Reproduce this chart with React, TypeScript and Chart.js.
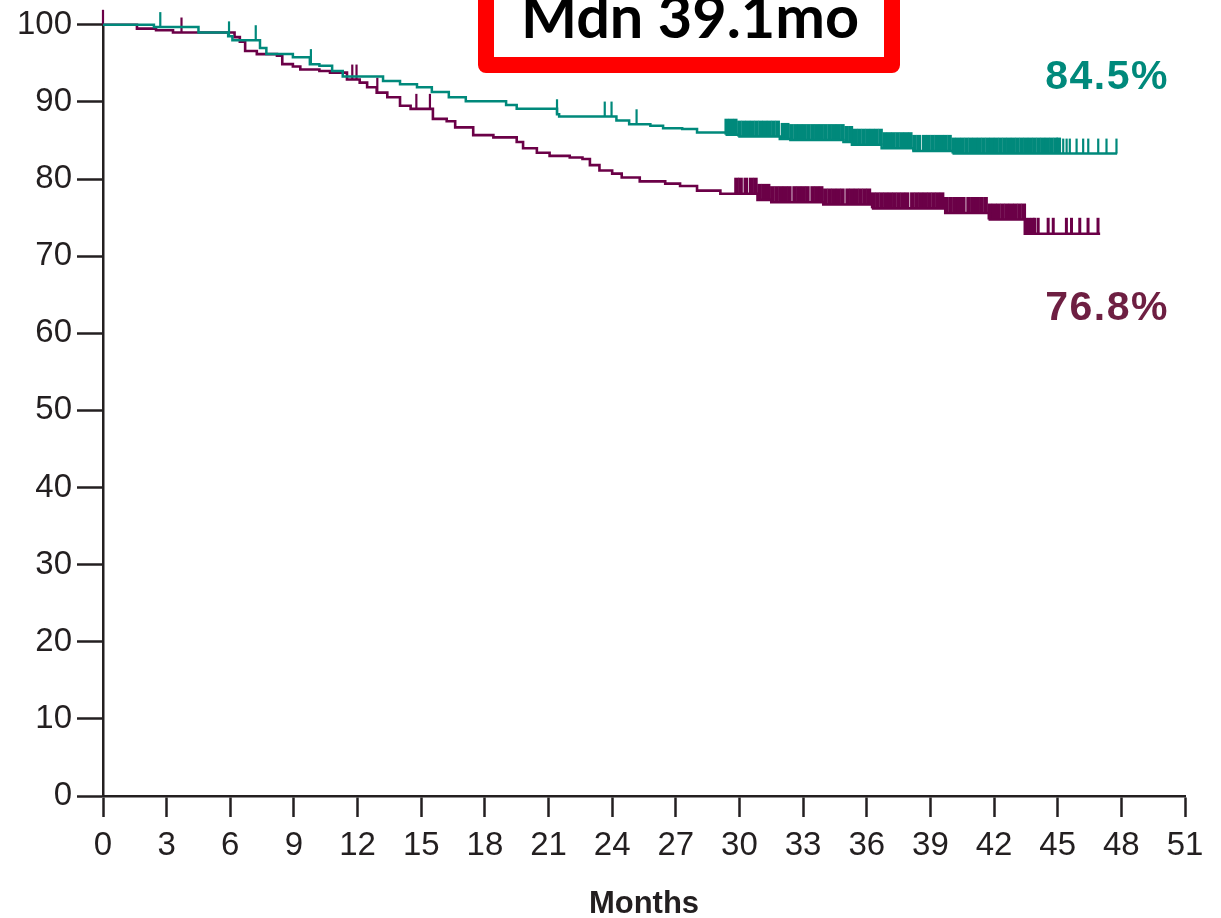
import React, { useEffect, useRef } from "react";
import { Chart, registerables } from "chart.js";

Chart.register(...registerables);

// ---- Data ----
const monthTicks = [0, 3, 6, 9, 12, 15, 18, 21, 24, 27, 30, 33, 36, 39, 42, 45, 48, 51];
const percentTicks = [0, 10, 20, 30, 40, 50, 60, 70, 80, 90, 100];

// Teal arm: step times (months) and survival (%) after each step
const tealTimes = [0, 2.4, 4.5, 5.9, 6.1, 7.4, 7.7, 8.95, 9.75, 10.2, 10.8, 11.3, 13.2, 14.0, 14.8, 15.5, 16.3, 17.1, 19.0, 19.5, 21.4, 21.5, 24.2, 24.8, 25.8, 26.4, 27.3, 28.0, 29.4, 30.0, 31.9, 32.4, 34.9, 35.3, 36.7, 38.2, 40.1, 47.8];
const tealValues = [100, 99.7, 99.0, 98.5, 98.0, 97.0, 96.2, 95.8, 94.9, 94.7, 94.0, 93.3, 92.7, 92.3, 91.9, 91.3, 90.6, 90.1, 89.6, 89.1, 88.4, 88.1, 87.6, 87.1, 86.9, 86.6, 86.5, 86.05, 85.75, 85.5, 85.2, 85.05, 84.8, 84.45, 84.0, 83.65, 83.3, 83.3];
const tealCensored = [2.7, 5.94, 7.2, 9.8, 21.4, 23.65, 23.97, 25.15, 45.26, 45.42, 45.57, 45.89, 46.2, 46.44, 46.91, 47.3, 47.77];
const tealCensoredDense = [29.4, 29.6, 29.8, 30.0, 30.2, 30.4, 30.6, 30.8, 31.0, 31.2, 31.4, 31.6, 31.8, 32.05, 32.25, 32.45, 32.65, 32.85, 33.05, 33.25, 33.45, 33.65, 33.85, 34.05, 34.25, 34.45, 34.65, 34.85, 35.05, 35.25, 35.45, 35.65, 35.85, 36.05, 36.25, 36.45, 36.65, 36.85, 37.05, 37.25, 37.45, 37.65, 37.85, 38.05, 38.25, 38.45, 38.7, 38.9, 39.1, 39.3, 39.5, 39.7, 39.9, 40.1, 40.3, 40.5, 40.7, 40.9, 41.1, 41.3, 41.5, 41.7, 41.9, 42.1, 42.3, 42.5, 42.7, 42.9, 43.1, 43.3, 43.5, 43.7, 43.9, 44.1, 44.3, 44.5, 44.7, 44.9, 45.05];

// Maroon arm
const maroonTimes = [0, 1.6, 2.5, 3.3, 6.2, 6.45, 6.7, 7.25, 8.2, 8.45, 8.95, 9.3, 10.2, 10.7, 11.5, 12.1, 12.45, 12.9, 13.4, 14.0, 14.5, 15.55, 16.2, 16.6, 17.45, 18.4, 19.5, 19.8, 20.45, 21.05, 22.0, 22.6, 22.95, 23.4, 24.0, 24.45, 25.3, 26.5, 27.2, 28.0, 29.1, 30.85, 31.5, 33.95, 36.3, 39.7, 41.8, 43.45, 47.0];
const maroonValues = [100, 99.5, 99.3, 99.0, 98.4, 97.8, 96.6, 96.2, 96.0, 94.9, 94.6, 94.2, 94.0, 93.8, 92.9, 92.5, 91.9, 91.2, 90.6, 89.5, 89.1, 87.8, 87.5, 86.7, 85.7, 85.4, 84.8, 84.0, 83.4, 83.0, 82.8, 82.6, 81.8, 81.1, 80.7, 80.2, 79.7, 79.4, 79.1, 78.5, 78.1, 77.3, 77.0, 76.7, 76.2, 75.6, 74.75, 72.9, 72.9];
const maroonCensored = [0.0, 3.7, 11.75, 11.95, 12.93, 14.77, 15.41];
const maroonCensoredLate = [43.92, 44.08, 44.55, 44.79, 45.41, 45.65, 46.04, 46.43, 46.9];
const maroonCensoredDense = [29.86, 30.05, 30.3, 30.55, 30.75, 30.95, 31.15, 31.35, 31.55, 31.75, 31.95, 32.15, 32.35, 32.6, 32.8, 33.0, 33.2, 33.45, 33.65, 33.85, 34.05, 34.25, 34.45, 34.65, 34.85, 35.1, 35.3, 35.5, 35.7, 35.9, 36.1, 36.3, 36.5, 36.7, 36.9, 37.1, 37.3, 37.5, 37.7, 37.9, 38.15, 38.35, 38.55, 38.75, 38.95, 39.15, 39.35, 39.55, 39.75, 39.95, 40.15, 40.35, 40.55, 40.8, 41.0, 41.2, 41.4, 41.6, 41.8, 42.0, 42.2, 42.4, 42.6, 42.8, 43.0, 43.2, 43.4, 43.6, 43.8];

const boxText = "Mdn 39.1mo";
const tealLabel = "84.5%";
const maroonLabel = "76.8%";
const xTitle = "Months";

const TEAL = "#00897b";
const MAROON = "#6b0047";
const MAROON_TEXT = "#6e1f42";
const INK = "#231f20";

function stepData(times: number[], values: number[]) {
  return times.map((t, i) => ({ x: t, y: values[i] }));
}
function survAt(times: number[], values: number[], t: number) {
  let v = values[0];
  for (let i = 0; i < times.length; i++) {
    if (times[i] <= t) v = values[i];
  }
  return v;
}
function censorData(times: number[], values: number[], cens: number[]) {
  return cens.map((t) => ({ x: t, y: survAt(times, values, t) }));
}

const annotations = {
  id: "annotations",
  afterDraw(chart: any) {
    const ctx = chart.ctx as CanvasRenderingContext2D;
    ctx.save();
    // red box
    ctx.strokeStyle = "#ff0000";
    ctx.lineWidth = 16;
    ctx.lineJoin = "round";
    ctx.strokeRect(486, -40, 406, 105);
    // box text
    ctx.fillStyle = "#000000";
    ctx.font = "bold 60px Lato, 'Open Sans', sans-serif";
    const w = ctx.measureText(boxText).width;
    const size = (60 * 338) / w;
    ctx.font = `bold ${size.toFixed(1)}px Lato, 'Open Sans', sans-serif`;
    ctx.textAlign = "center";
    ctx.textBaseline = "alphabetic";
    ctx.fillText(boxText, 690, 38);
    // percentage labels
    ctx.font = "bold 41px 'Liberation Sans', Arial, sans-serif";
    (ctx as any).letterSpacing = "1.5px";
    ctx.textAlign = "right";
    ctx.fillStyle = TEAL;
    ctx.fillText(tealLabel, 1169, 89);
    ctx.fillStyle = MAROON_TEXT;
    ctx.fillText(maroonLabel, 1169, 320);
    ctx.restore();
  },
};

export default function App() {
  const canvasRef = useRef<HTMLCanvasElement | null>(null);

  useEffect(() => {
    if (!canvasRef.current) return;
    Chart.defaults.font.family = "'Liberation Sans', Arial, sans-serif";
    const tickMark = (radius: number, width: number, color: string) => ({
      type: "line" as const,
      showLine: false,
      pointStyle: "dash" as const,
      pointRotation: 270,
      pointRadius: radius,
      pointHoverRadius: radius,
      pointBorderWidth: width,
      pointBorderColor: color,
      pointBackgroundColor: color,
      borderColor: color,
      clip: false as any,
    });
    const chart = new Chart(canvasRef.current, {
      type: "line",
      data: {
        datasets: [
          {
            label: "Teal",
            data: stepData(tealTimes, tealValues),
            stepped: true,
            borderColor: TEAL,
            borderWidth: 2.5,
            pointRadius: 0,
            fill: false,
            clip: false as any,
          },
          { label: "Teal censored", data: censorData(tealTimes, tealValues, tealCensored), ...tickMark(15, 2.2, TEAL) },
          { label: "Teal censored dense", data: censorData(tealTimes, tealValues, tealCensoredDense), ...tickMark(16, 4.6, TEAL) },
          {
            label: "Maroon",
            data: stepData(maroonTimes, maroonValues),
            stepped: true,
            borderColor: MAROON,
            borderWidth: 2.6,
            pointRadius: 0,
            fill: false,
            clip: false as any,
          },
          { label: "Maroon censored", data: censorData(maroonTimes, maroonValues, maroonCensored), ...tickMark(15, 2.2, MAROON) },
          { label: "Maroon censored late", data: censorData(maroonTimes, maroonValues, maroonCensoredLate), ...tickMark(16, 3, MAROON) },
          { label: "Maroon censored dense", data: censorData(maroonTimes, maroonValues, maroonCensoredDense), ...tickMark(16, 4.6, MAROON) },
        ] as any,
      },
      options: {
        responsive: false,
        animation: false,
        events: [],
        layout: { padding: { top: 22, right: 36, left: 0, bottom: 0 } },
        plugins: {
          legend: { display: false },
          tooltip: { enabled: false },
          title: { display: false },
        },
        scales: {
          x: {
            type: "linear",
            min: 0,
            max: 51,
            afterBuildTicks: (scale: any) => {
              scale.ticks = monthTicks.map((v) => ({ value: v }));
            },
            afterFit: (scale: any) => {
              scale.height = 122;
            },
            grid: {
              drawOnChartArea: false,
              drawTicks: true,
              tickLength: 21,
              tickWidth: 2.5,
              tickColor: INK,
              color: INK,
            },
            border: { display: true, color: INK, width: 2.5 },
            ticks: {
              autoSkip: false,
              maxRotation: 0,
              padding: 9,
              color: INK,
              font: { size: 33 },
              callback: (v: any) => String(v),
            },
            title: {
              display: true,
              text: xTitle,
              color: INK,
              font: { size: 31, weight: "bold", lineHeight: 0.85 },
              padding: { top: 0, bottom: 0 },
            },
          },
          y: {
            type: "linear",
            min: 0,
            max: 100,
            afterBuildTicks: (scale: any) => {
              scale.ticks = percentTicks.map((v) => ({ value: v }));
            },
            afterFit: (scale: any) => {
              scale.width = 103;
            },
            grid: {
              drawOnChartArea: false,
              drawTicks: true,
              tickLength: 26,
              tickWidth: 2.5,
              tickColor: INK,
              color: INK,
            },
            border: { display: true, color: INK, width: 2.5 },
            ticks: {
              autoSkip: false,
              padding: 5,
              color: INK,
              font: { size: 33 },
              callback: (v: any) => String(v),
            },
          },
        },
      } as any,
      plugins: [annotations],
    });
    return () => chart.destroy();
  }, []);

  return (
    <div style={{ position: "absolute", left: 0, top: 0, width: 1221, height: 918, background: "#ffffff" }}>
      <canvas ref={canvasRef} width={1221} height={918} style={{ width: 1221, height: 918, display: "block" }} />
    </div>
  );
}
